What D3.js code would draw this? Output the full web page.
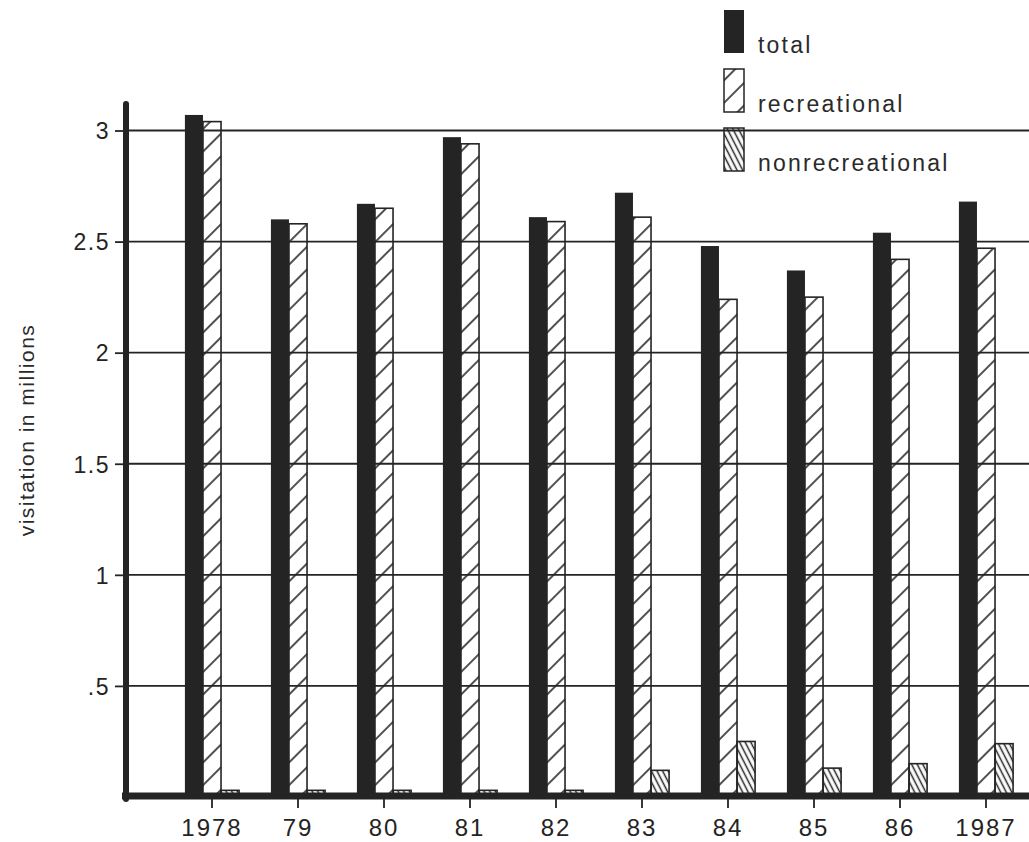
<!DOCTYPE html>
<html>
<head>
<meta charset="utf-8">
<script src="https://cdn.jsdelivr.net/npm/d3@7"></script>
<style>
 body { margin: 0; background: #fff; }
 text { font-family: "Liberation Sans", Arial, sans-serif; fill: #2a2a2a; }
</style>
</head>
<body>
<div id="chart"></div>
<script>
/*************
Data
**************/
var years = ["1978", "79", "80", "81", "82", "83", "84", "85", "86", "1987"];
var total = [3.07, 2.60, 2.67, 2.97, 2.61, 2.72, 2.48, 2.37, 2.54, 2.68];
var recreational = [3.04, 2.58, 2.65, 2.94, 2.59, 2.61, 2.24, 2.25, 2.42, 2.47];
var nonrecreational = [0.03, 0.03, 0.03, 0.03, 0.03, 0.12, 0.25, 0.13, 0.15, 0.24];
var series = ["total", "recreational", "nonrecreational"];
var yTicks = [0.5, 1, 1.5, 2, 2.5, 3];
var yTickLabels = [".5", "1", "1.5", "2", "2.5", "3"];

/*************
Params
**************/
var width = 1029, height = 842;
var ink = "#242424";
var axisX = 126, baseY = 797;

var svg = d3.select("#chart").append("svg")
 .attr("width", width)
 .attr("height", height);

var defs = svg.append("defs");
defs.append("pattern")
 .attr("id", "rec")
 .attr("patternUnits", "userSpaceOnUse")
 .attr("width", 16).attr("height", 16)
 .attr("patternTransform", "rotate(45)")
 .append("line")
 .attr("x1", 8).attr("y1", -2).attr("x2", 8).attr("y2", 18)
 .attr("stroke", ink).attr("stroke-width", 1.6);
defs.append("pattern")
 .attr("id", "nonrec")
 .attr("patternUnits", "userSpaceOnUse")
 .attr("width", 5).attr("height", 10)
 .attr("patternTransform", "rotate(-27)")
 .append("line")
 .attr("x1", 2.5).attr("y1", -1).attr("x2", 2.5).attr("y2", 11)
 .attr("stroke", ink).attr("stroke-width", 1.5);

var fills = { total: ink, recreational: "url(#rec)", nonrecreational: "url(#nonrec)" };

/*************
Scales
**************/
var x0 = d3.scaleBand().domain(years).range([169, 1029]).paddingInner(0.37).paddingOuter(0.185);
var x1 = d3.scaleBand().domain(series).range([0, x0.bandwidth()]);
var y = d3.scaleLinear().domain([0, 3]).range([baseY, 130.5]);

var rows = years.map(function (yr, i) {
 return { year: yr, values: [
  { key: "total", v: total[i] },
  { key: "recreational", v: recreational[i] },
  { key: "nonrecreational", v: nonrecreational[i] }
 ] };
});

// gridlines
svg.append("g").selectAll("line")
 .data(yTicks).enter().append("line")
 .attr("x1", axisX).attr("x2", width)
 .attr("y1", function (d) { return y(d); })
 .attr("y2", function (d) { return y(d); })
 .attr("stroke", ink).attr("stroke-width", 1.8);

// bars
svg.append("g").selectAll("g")
 .data(rows).enter().append("g")
 .attr("transform", function (d) { return "translate(" + x0(d.year) + ",0)"; })
 .selectAll("rect")
 .data(function (d) { return d.values; })
 .enter().append("rect")
 .attr("x", function (d) { return x1(d.key); })
 .attr("width", x1.bandwidth())
 .attr("y", function (d) { return y(d.v); })
 .attr("height", function (d) { return baseY - y(d.v); })
 .attr("fill", function (d) { return fills[d.key]; })
 .attr("stroke", function (d) { return d.key === "total" ? "none" : ink; })
 .attr("stroke-width", 1.6);

// y axis
var yAxis = d3.axisLeft(y)
 .tickValues(yTicks)
 .tickFormat(function (d, i) { return yTickLabels[i]; })
 .tickSizeInner(11).tickSizeOuter(0).tickPadding(5);
var gy = svg.append("g").attr("transform", "translate(" + axisX + ",0)").call(yAxis);
gy.select(".domain").remove();
gy.selectAll(".tick line").attr("stroke", ink).attr("stroke-width", 1.8);
gy.selectAll(".tick text").attr("font-size", 23).attr("letter-spacing", 1.5)
 .style("fill", ink).attr("dy", "0.36em");

svg.append("line")
 .attr("x1", axisX).attr("x2", axisX)
 .attr("y1", 104).attr("y2", 799)
 .attr("stroke", ink).attr("stroke-width", 6).attr("stroke-linecap", "round");

// x axis
var xAxis = d3.axisBottom(x0).tickSizeInner(11).tickSizeOuter(0).tickPadding(11);
var gx = svg.append("g").attr("transform", "translate(0," + baseY + ")").call(xAxis);
gx.select(".domain").remove();
gx.selectAll(".tick line").attr("stroke", ink).attr("stroke-width", 1.8);
gx.selectAll(".tick text").attr("font-size", 24).attr("letter-spacing", 2).style("fill", ink);

svg.append("line")
 .attr("x1", axisX - 4).attr("x2", width)
 .attr("y1", baseY - 1).attr("y2", baseY - 1)
 .attr("stroke", ink).attr("stroke-width", 7);

// y title
svg.append("text")
 .attr("transform", "translate(34,430) rotate(-90)")
 .attr("text-anchor", "middle")
 .attr("font-size", 21).attr("letter-spacing", 1.5)
 .text("visitation in millions");

// legend
var leg = svg.append("g").selectAll("g")
 .data(series).enter().append("g")
 .attr("transform", function (d, i) { return "translate(724," + (10 + i * 59) + ")"; });
leg.append("rect")
 .attr("width", 20).attr("height", 43)
 .attr("fill", function (d) { return fills[d]; })
 .attr("stroke", function (d) { return d === "total" ? "none" : ink; })
 .attr("stroke-width", 1.5);
leg.append("text")
 .attr("x", 34).attr("y", 43)
 .attr("font-size", 23).attr("letter-spacing", 2.2)
 .text(function (d) { return d; });
</script>
</body>
</html>
